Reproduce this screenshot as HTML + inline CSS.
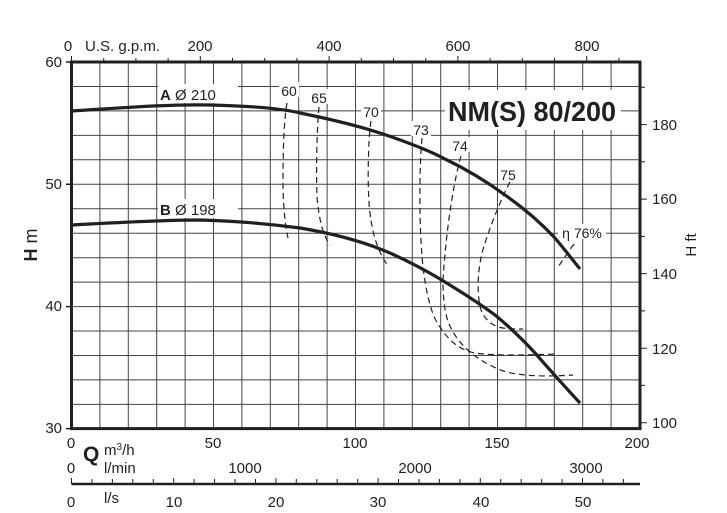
<!DOCTYPE html>
<html><head><meta charset="utf-8"><style>html,body{margin:0;padding:0;background:#fff}svg{display:block}</style></head><body>
<svg width="727" height="513" xmlns="http://www.w3.org/2000/svg" font-family="Liberation Sans, sans-serif" fill="#231f20">
<g stroke="#444" stroke-width="1">
<path d="M99.9 62V428.6M128.3 62V428.6M156.7 62V428.6M185.1 62V428.6M213.5 62V428.6M241.9 62V428.6M270.3 62V428.6M298.7 62V428.6M327.1 62V428.6M355.5 62V428.6M383.9 62V428.6M412.3 62V428.6M440.7 62V428.6M469.1 62V428.6M497.5 62V428.6M525.9 62V428.6M554.3 62V428.6M582.7 62V428.6M611.1 62V428.6"/>
<path d="M71.5 86.5H640M71.5 110.9H640M71.5 135.4H640M71.5 159.8H640M71.5 184.3H640M71.5 208.8H640M71.5 233.2H640M71.5 257.7H640M71.5 282.1H640M71.5 306.6H640M71.5 331H640M71.5 355.5H640M71.5 379.9H640M71.5 404.4H640"/>
</g>
<rect x="71.5" y="62" width="568.5" height="366.6" fill="none" stroke="#231f20" stroke-width="3"/>
<g stroke="#231f20" stroke-width="1.5"><path d="M66 62H71.5M66 184.3H71.5M66 306.6H71.5M66 428.6H71.5"/></g>
<g stroke="#231f20" stroke-width="1"><path d="M71.5 56V62M103.7 58V62M135.9 58V62M168.1 58V62M200.3 56V62M232.5 58V62M264.7 58V62M296.9 58V62M329.1 56V62M361.3 58V62M393.5 58V62M425.7 58V62M457.9 56V62M490.1 58V62M522.3 58V62M554.5 58V62M586.7 56V62M618.9 58V62"/>
<path d="M640 422.7H647M640 385.4H645M640 348.2H647M640 310.9H645M640 273.6H647M640 236.4H645M640 199.1H647M640 161.8H645M640 124.6H647M640 87.3H645"/></g>
<g font-size="15">
<text x="68" y="51" text-anchor="middle">0</text><text x="85" y="51">U.S. g.p.m.</text>
<text x="200" y="51" text-anchor="middle">200</text><text x="329" y="51" text-anchor="middle">400</text>
<text x="458" y="51" text-anchor="middle">600</text><text x="587" y="51" text-anchor="middle">800</text>
<text x="62" y="67" text-anchor="end">60</text><text x="62" y="189" text-anchor="end">50</text>
<text x="62" y="311" text-anchor="end">40</text><text x="62" y="433" text-anchor="end">30</text>
<text x="652" y="130">180</text><text x="652" y="204">160</text><text x="652" y="279">140</text>
<text x="652" y="354">120</text><text x="652" y="428">100</text>
<text x="71" y="448" text-anchor="middle">0</text><text x="213" y="448" text-anchor="middle">50</text>
<text x="355" y="448" text-anchor="middle">100</text><text x="497" y="448" text-anchor="middle">150</text>
<text x="637" y="448" text-anchor="middle">200</text>
<text x="104" y="455">m<tspan font-size="10" dy="-5">3</tspan><tspan dy="5">/h</tspan></text>
<text x="71" y="473" text-anchor="middle">0</text><text x="104" y="473">l/min</text>
<text x="245" y="473" text-anchor="middle">1000</text><text x="415" y="473" text-anchor="middle">2000</text>
<text x="586" y="473" text-anchor="middle">3000</text>
<text x="71" y="507" text-anchor="middle">0</text><text x="104" y="503">l/s</text>
<text x="174" y="507" text-anchor="middle">10</text><text x="276" y="507" text-anchor="middle">20</text>
<text x="378" y="507" text-anchor="middle">30</text><text x="481" y="507" text-anchor="middle">40</text>
<text x="583" y="507" text-anchor="middle">50</text>
</g>
<text x="83" y="461" font-size="21" font-weight="bold">Q</text>
<text transform="translate(37,245) rotate(-90)" font-size="18" text-anchor="middle"><tspan font-weight="bold">H</tspan> m</text>
<text transform="translate(696,245) rotate(-90)" font-size="15" text-anchor="middle">H ft</text>
<line x1="71.5" y1="484" x2="640" y2="484" stroke="#231f20" stroke-width="2.5"/>
<g stroke="#231f20" stroke-width="1"><path d="M71.5 478V484M91.9 479V484M112.4 479V484M132.8 479V484M153.3 479V484M173.7 478V484M194.1 479V484M214.6 479V484M235 479V484M255.5 479V484M275.9 478V484M296.3 479V484M316.8 479V484M337.2 479V484M357.7 479V484M378.1 478V484M398.5 479V484M419 479V484M439.4 479V484M459.9 479V484M480.3 478V484M500.7 479V484M521.2 479V484M541.6 479V484M562.1 479V484M582.5 478V484M602.9 479V484M623.4 479V484"/></g>
<g fill="none" stroke="#231f20" stroke-width="1.2" stroke-dasharray="6,4">
<path d="M287 103 C284 120 283 150 283 180 C283 205 285 225 288 238"/>
<path d="M319 107 C317 125 316 170 317 197 C319 220 323 235 330 245"/>
<path d="M371 121 C368 140 367 190 370 213 C373 240 381 257 389 267"/>
<path d="M422 138 C419 170 419 230 423 267 C427 300 433 318 440 327 C450 342 460 350 475 353 C495 356 530 355 557 354"/>
<path d="M461 156 C454 180 446 230 443 280 C443 305 446 320 452 330 C460 345 475 360 503 371 C520 376 545 377 573 375"/>
<path d="M510 182 C503 195 490 225 482 253 C477 275 477 295 481 310 C486 322 495 327 503 328 C510 329 516 329 523 329"/>
<path d="M574 244 C568 252 563 260 558 267"/>
</g>
<g fill="none" stroke="#231f20" stroke-width="3.2" stroke-linejoin="round">
<path d="M71.5 111 C120 108 170 104 210 105 C250 106 280 108 300 113 C330 119 355 125 380 133 C410 143 430 151 445 159 C470 171 490 184 505 195 C525 209 540 222 555 238 C565 250 572 259 580 269"/>
<path d="M71.5 225 C110 223 160 220 200 220 C240 221 270 224 300 228 C330 233 360 240 390 253 C410 262 425 270 440 279 C460 291 480 304 495 315 C512 329 525 342 535 353 C550 370 565 387 580 403"/>
</g>
<g font-size="15">
<rect x="158" y="84" width="80" height="19" fill="#fff"/>
<text x="160" y="100"><tspan font-weight="bold">A</tspan> Ø 210</text>
<rect x="158" y="199" width="80" height="19" fill="#fff"/>
<text x="160" y="215"><tspan font-weight="bold">B</tspan> Ø 198</text>
<g font-size="14" text-anchor="middle">
<rect x="279" y="82" width="20" height="15" fill="#fff"/><text x="289" y="96">60</text>
<rect x="309" y="89" width="20" height="15" fill="#fff"/><text x="319" y="103">65</text>
<rect x="361" y="103" width="20" height="15" fill="#fff"/><text x="371" y="117">70</text>
<rect x="411" y="121" width="20" height="15" fill="#fff"/><text x="421" y="135">73</text>
<rect x="450" y="137" width="20" height="15" fill="#fff"/><text x="460" y="151">74</text>
<rect x="498" y="166" width="20" height="15" fill="#fff"/><text x="508" y="180">75</text>
<rect x="558" y="224" width="48" height="15" fill="#fff"/><text x="582" y="238">η 76%</text>
</g>
</g>
<rect x="445" y="90" width="176" height="40" fill="#fff"/>
<text x="448" y="121" font-size="28" font-weight="bold" textLength="168" lengthAdjust="spacingAndGlyphs">NM(S) 80/200</text>
</svg>
</body></html>
